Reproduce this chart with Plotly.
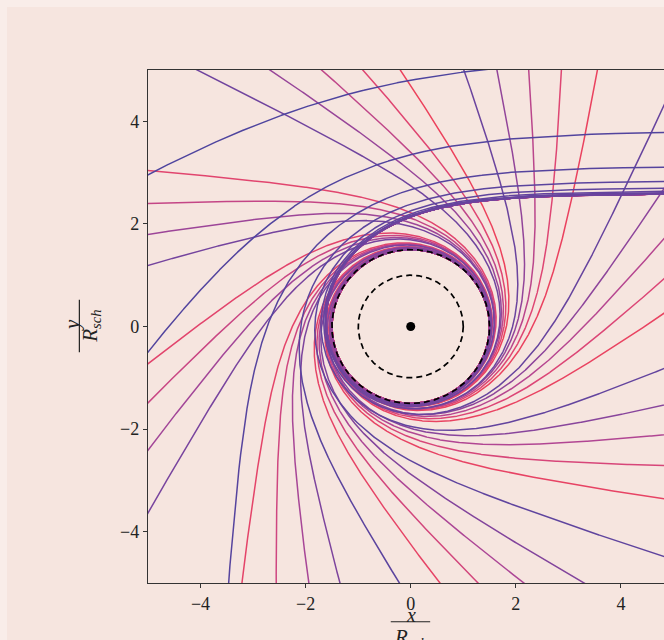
import numpy as np
import plotly.graph_objects as go

# ---------------- data ----------------
# offset of each ray's impact parameter above the critical value b_c = 3*sqrt(3)/2 (units of R_sch)
impact_offsets = [2.68, 1.22, 0.5322, 0.2465, 0.1142, 0.05289, 0.02450, 0.01135,
                  5.257e-3, 2.435e-3, 1.128e-3, 5.224e-4, 2.420e-4, 1.121e-4, 5.192e-5,
                  2.405e-5, 1.114e-5, 5.160e-6, 2.390e-6, 1.107e-6, 5.128e-7, 2.375e-7,
                  1.100e-7, 5.096e-8, 2.361e-8, 1.093e-8, 5.065e-9, 2.346e-9, 1.087e-9,
                  5.034e-10, 2.332e-10, 1.080e-10, 5.003e-11, 2.317e-11, 1.073e-11,
                  4.972e-12, 2.303e-12, 1.067e-12, 4.941e-13, 2.289e-13, 1.060e-13]
horizon_radius = 1.0
photon_sphere_radius = 1.5
tick_values = [-4, -2, 0, 2, 4]
x_range = [-5.0, 4.82]
y_range = [-5.0, 5.0]

B_CRIT = 1.5 * np.sqrt(3.0)

# colour gradient anchors (blue -> purple -> magenta -> pink -> red)
palette = [(78, 68, 158), (120, 68, 158), (172, 70, 150), (220, 70, 118), (236, 66, 92)]


def grad_color(t):
    t = min(max(t, 0.0), 1.0) * (len(palette) - 1)
    i = min(int(t), len(palette) - 2)
    f = t - i
    c = [palette[i][k] * (1 - f) + palette[i + 1][k] * f for k in range(3)]
    return "rgb(%d,%d,%d)" % tuple(int(round(v)) for v in c)


def trajectory(b, n=16000, keep=4):
    """Null geodesic in Schwarzschild (R_sch = 1) arriving from x=+inf at height b."""
    c = 1.0 / b ** 2
    lo, hi = 0.0, 2.0 / 3.0
    for _ in range(200):
        mid = 0.5 * (lo + hi)
        if mid ** 3 - mid ** 2 + c > 0:
            lo = mid
        else:
            hi = mid
    r1 = lo                      # 1 / r_min
    A = r1 * (2.0 - 3.0 * r1)
    B = 3.0 * r1 - 1.0
    S = np.sqrt(r1)
    s0 = np.sqrt(A)
    T = np.arcsinh(S / s0)
    t = np.linspace(0.0, T, n)
    s = s0 * np.sinh(t)
    H = np.maximum(A + B * s ** 2 - s ** 4, 1e-300)
    g = 2.0 * s0 * np.cosh(t) / np.sqrt(H)
    I = np.concatenate([[0.0], np.cumsum(0.5 * (g[1:] + g[:-1]) * np.diff(t))])
    Phi = I[-1]
    u = r1 - s ** 2
    phi = np.concatenate([Phi - I[::-1], Phi + I[1:]])
    uu = np.concatenate([u[::-1], u[1:]])
    phi = phi[::keep]
    uu = uu[::keep]
    m = uu > 1.0 / 40.0
    r = 1.0 / uu[m]
    return r * np.cos(phi[m]), r * np.sin(phi[m])


fig = go.Figure()

N = len(impact_offsets)
for idx in reversed(range(N)):
    b = B_CRIT + impact_offsets[idx]
    x, y = trajectory(b)
    fig.add_trace(go.Scatter(x=x, y=y, mode="lines",
                             line=dict(color=grad_color(idx / (N - 1)), width=1.5),
                             hoverinfo="skip", showlegend=False))

ang = np.linspace(0, 2 * np.pi, 721)
for rad in (photon_sphere_radius, horizon_radius):
    fig.add_trace(go.Scatter(x=rad * np.cos(ang), y=rad * np.sin(ang), mode="lines",
                             line=dict(color="black", width=1.7, dash="6px,4px"),
                             hoverinfo="skip", showlegend=False))

fig.add_trace(go.Scatter(x=[0], y=[0], mode="markers",
                         marker=dict(color="black", size=9),
                         hoverinfo="skip", showlegend=False))

BG = "#f6e5df"
axis_common = dict(showgrid=False, zeroline=False, showline=True, linecolor="#333",
                   linewidth=1.3, ticks="outside", ticklen=4, tickwidth=1.2,
                   tickcolor="#333", tickvals=tick_values,
                   tickfont=dict(family="Liberation Serif", size=18, color="#222"))

fig.update_layout(
    width=664, height=640,
    margin=dict(l=148, r=0, t=70, b=57),
    paper_bgcolor=BG, plot_bgcolor=BG,
    xaxis=dict(range=x_range, mirror=True, **axis_common),
    yaxis=dict(range=y_range, **axis_common),
    showlegend=False,
)

# slightly lighter border strips of the original image (top and left)
fig.add_shape(type="rect", xref="paper", yref="paper", x0=-0.2868, x1=1.0, y0=1.1228, y1=1.14,
              fillcolor="#f9ede9", line=dict(width=0), layer="below")
fig.add_shape(type="rect", xref="paper", yref="paper", x0=-0.2868, x1=-0.2733, y0=-0.12, y1=1.14,
              fillcolor="#f9ede9", line=dict(width=0), layer="below")

lab_font = dict(family="Liberation Serif", size=21, color="#222")
# x label  x / R_sch
fig.add_annotation(x=0, y=-0.062, xref="x", yref="paper", text="<i>x</i>",
                   showarrow=False, font=dict(family="Liberation Serif", size=20, color="#222"),
                   xanchor="center", yanchor="middle")
fig.add_shape(type="line", xref="x", yref="paper", x0=-0.38, x1=0.37, y0=-0.0755, y1=-0.0755,
              line=dict(color="#222", width=1.2))
fig.add_annotation(x=0, y=-0.107, xref="x", yref="paper",
                   text="<i>R</i><sub><i>sch</i></sub>",
                   showarrow=False, font=lab_font, xanchor="center", yanchor="middle")
# y label  y / R_sch (rotated)
fig.add_annotation(x=-0.147, y=0.03, xref="paper", yref="y", text="<i>y</i>",
                   showarrow=False, font=lab_font, textangle=-90,
                   xanchor="center", yanchor="middle")
fig.add_shape(type="line", xref="paper", yref="y", x0=-0.133, x1=-0.133, y0=-0.5, y1=0.52,
              line=dict(color="#222", width=1.2))
fig.add_annotation(x=-0.112, y=0.0, xref="paper", yref="y",
                   text="<i>R</i><sub><i>sch</i></sub>",
                   showarrow=False, font=lab_font, textangle=-90,
                   xanchor="center", yanchor="middle")

fig.write_html("out.html")
